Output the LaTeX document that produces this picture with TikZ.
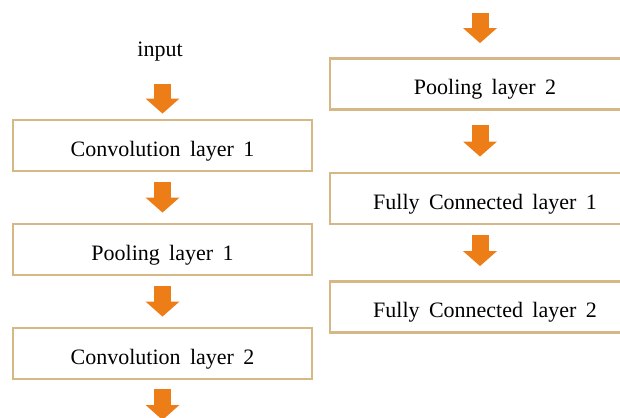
\documentclass[tikz,border=0pt]{standalone}
\usepackage{fontspec}
\setmainfont{Liberation Serif}[WordSpace=1.7]
\usetikzlibrary{arrows.meta}
\definecolor{boxtan}{RGB}{214,184,134}
\definecolor{flowor}{RGB}{237,125,22}
\tikzset{
  layerbox/.style={draw=boxtan, line width=2.8pt, fill=white,
    minimum height=51pt, inner sep=0pt, text height=21.5pt, text depth=0pt,
    font=\fontsize{22}{26}\selectfont},
  leftbox/.style={layerbox, minimum width=299pt},
  rightbox/.style={layerbox, minimum width=310pt},
  flow/.style={draw=flowor, line width=17pt,
    -{Triangle[length=15pt,width=33pt]}}
}
\begin{document}
\begin{tikzpicture}[x=1pt,y=-1pt]
  \useasboundingbox (0,0) rectangle (620,417);
  \clip (0,0) rectangle (620,417);

  % left column
  \node[font=\fontsize{22}{26}\selectfont, inner sep=0pt, anchor=base] (input) at (160,57) {input};
  \node[leftbox] (L1) at (162.5,145.5) {Convolution layer 1};
  \node[leftbox] (L2) at (162.5,249.5) {Pooling layer 1};
  \node[leftbox] (L3) at (162.5,353.5) {Convolution layer 2};
  \coordinate (inbase) at (input.south -| L1.north);
  \coordinate (Lout) at (162.5,420);

  % right column
  \coordinate (Rin) at (480,13);
  \node[rightbox] (R1) at (485,84) {Pooling layer 2};
  \node[rightbox] (R2) at (485,198.5) {Fully Connected layer 1};
  \node[rightbox] (R3) at (485,307) {Fully Connected layer 2};

  % flow arrows
  \draw[flow] ([yshift=-22pt]inbase) -- ([yshift=5pt]L1.north);
  \draw[flow] ([yshift=-10pt]L1.south) -- ([yshift=10pt]L2.north);
  \draw[flow] ([yshift=-10pt]L2.south) -- ([yshift=10pt]L3.north);
  \draw[flow] ([yshift=-9pt]L3.south) -- (Lout);
  \draw[flow] (Rin) -- ([xshift=-5pt,yshift=14pt]R1.north);
  \draw[flow] ([xshift=-5pt,yshift=-14pt]R1.south) -- ([xshift=-5pt,yshift=15pt]R2.north);
  \draw[flow] ([xshift=-5pt,yshift=-10pt]R2.south) -- ([xshift=-5pt,yshift=14pt]R3.north);
\end{tikzpicture}
\end{document}
